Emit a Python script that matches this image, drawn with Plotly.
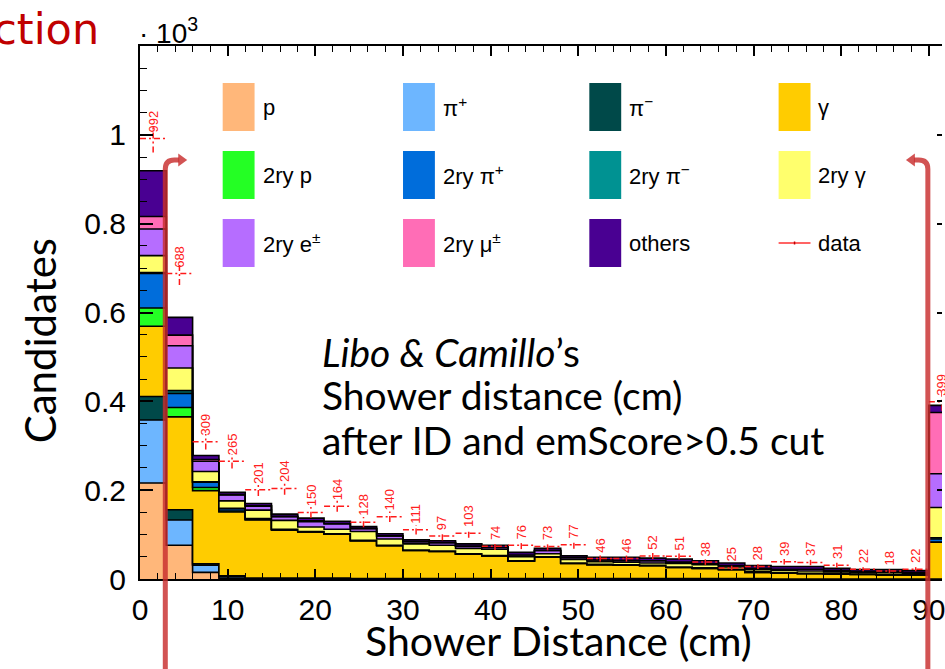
import math
import plotly.graph_objects as go

# ---------------------------------------------------------------- data
BIN_WIDTH = 3.0
N_BINS = 31
edges = [BIN_WIDTH * i for i in range(N_BINS + 1)]          # 0 ... 93 cm

cat_names = ["p", "π<sup>+</sup>", "π<sup>−</sup>", "γ",
             "2ry p", "2ry π<sup>+</sup>", "2ry π<sup>−</sup>", "2ry γ",
             "2ry e<sup>±</sup>", "2ry μ<sup>±</sup>", "others"]

cat_colors = ["#ffb77a", "#6db6ff", "#004949", "#ffcc00",
              "#24ff24", "#006ddb", "#009292", "#ffff6d",
              "#b66dff", "#ff6db6", "#490092"]

# Monte-Carlo candidates per 3 cm bin (stacked bottom -> top)
mc_p      = [216, 76, 15, 2, 1, 1, 1, 1, 1, 1, 1, 1, 1, 1, 1, 1, 1, 1, 1, 1, 1, 1, 1, 1, 0, 0, 0, 0, 0, 0, 0]
mc_pip    = [142, 57, 16, 4, 1, 1, 1, 1, 0, 0, 0, 0, 0, 0, 0, 0, 0, 0, 0, 0, 0, 0, 0, 0, 0, 0, 0, 0, 0, 0, 0]
mc_pim    = [53, 23, 3, 1, 0, 0, 0, 0, 0, 0, 0, 0, 0, 0, 0, 0, 0, 0, 0, 0, 0, 0, 0, 0, 0, 0, 0, 0, 0, 0, 0]
mc_gamma  = [158, 209, 165, 144, 131, 108, 104, 99, 85, 74, 63, 61, 55, 51, 39, 48, 34, 31, 30, 29, 25, 23, 20, 14, 13, 12, 11, 10, 9, 9, 83]
mc_p2     = [41, 21, 7, 2, 1, 1, 0, 0, 0, 0, 0, 0, 0, 0, 0, 0, 0, 0, 0, 0, 0, 0, 0, 0, 0, 0, 0, 0, 0, 0, 0]
mc_pip2   = [78, 32, 12, 5, 2, 1, 1, 1, 1, 1, 1, 1, 1, 1, 1, 1, 1, 1, 1, 1, 1, 1, 1, 1, 1, 1, 1, 1, 1, 1, 7]
mc_pim2   = [2, 6, 1, 1, 0, 0, 0, 0, 0, 0, 0, 0, 0, 0, 0, 0, 0, 0, 0, 0, 0, 0, 0, 0, 0, 0, 0, 0, 0, 0, 3]
mc_gamma2 = [38, 51, 23, 17, 19, 20, 10, 10, 20, 14, 14, 13, 12, 14, 9, 7, 8, 6, 6, 5, 8, 7, 5, 5, 5, 5, 4, 3, 4, 3, 68]
mc_e2     = [60, 50, 23, 13, 9, 8, 12, 12, 6, 7, 5, 6, 5, 4, 4, 7, 4, 4, 4, 5, 3, 3, 3, 3, 3, 4, 3, 3, 3, 2, 76]
mc_mu2    = [28, 24, 4, 1, 1, 1, 2, 1, 1, 0, 0, 0, 0, 0, 0, 0, 0, 0, 0, 0, 0, 0, 0, 0, 0, 0, 0, 0, 0, 0, 138]
mc_others = [103, 40, 9, 5, 5, 5, 6, 5, 4, 5, 4, 4, 5, 5, 6, 5, 4, 6, 7, 6, 7, 6, 6, 6, 6, 6, 5, 4, 4, 4, 16]

data_counts = [992, 688, 309, 265, 201, 204, 150, 164, 128, 140, 111, 97, 103, 74, 76, 73, 77,
               46, 46, 52, 51, 38, 25, 28, 39, 37, 31, 22, 18, 22, 399]

stack = [mc_p, mc_pip, mc_pim, mc_gamma, mc_p2, mc_pip2, mc_pim2,
         mc_gamma2, mc_e2, mc_mu2, mc_others]

x_ticks = [0, 10, 20, 30, 40, 50, 60, 70, 80, 90]
y_ticks = [0, 200, 400, 600, 800, 1000]
y_ticktext = ["0", "0.2", "0.4", "0.6", "0.8", "1"]

CUT_LOW, CUT_HIGH = 3.0, 90.0

# ---------------------------------------------------------------- geometry
W, H = 945, 669
L, R, T, B = 140, 945, 46, 579
X_RANGE = [0, 91.5]
Y_RANGE = [0, 1200]


def px2x(px):
    return (px - L) / (R - L)


def py2y(py):
    return (B - py) / (B - T)


def cm2paper(v):
    return (v - X_RANGE[0]) / (X_RANGE[1] - X_RANGE[0])


fig = go.Figure()

# stacked MC histograms drawn as step areas
for name, color, vals in zip(cat_names, cat_colors, stack):
    fig.add_trace(go.Scatter(
        x=edges, y=vals + [vals[-1]],
        mode="lines", stackgroup="mc",
        line=dict(shape="hv", color="black", width=1.6),
        fillcolor=color, name=name, showlegend=False, hoverinfo="skip",
    ))

# data: horizontal bin bars and vertical sqrt(N) error bars
ex, ey = [], []
for i, v in enumerate(data_counts):
    lo, hi = edges[i], edges[i + 1]
    c = 0.5 * (lo + hi)
    err = math.sqrt(v)
    ex += [lo, hi, None, c, c, None]
    ey += [v, v, None, v - err, v + err, None]
fig.add_trace(go.Scatter(
    x=ex, y=ey, mode="lines", yaxis="y2",
    line=dict(color="#ff1a1a", width=1.5, dash="6px,3px,2px,3px"),
    showlegend=False, hoverinfo="skip",
))

annotations = []
for i, v in enumerate(data_counts):
    annotations.append(dict(
        x=0.5 * (edges[i] + edges[i + 1]), y=v, xref="x", yref="y",
        text=str(v), textangle=-90, showarrow=False,
        xanchor="center", yanchor="bottom", yshift=4,
        font=dict(family="Liberation Sans", size=13, color="#ff2020"),
    ))

# ---------------------------------------------------------------- legend
leg_cols = [223, 404, 591, 781]
leg_rows = [83, 151, 219]
SW_W, SW_H = 32, 48
legend_entries = cat_names + ["data"]
legend_colors = cat_colors + [None]
shapes = []
for k, (name, color) in enumerate(zip(legend_entries, legend_colors)):
    r, c = k // 4, k % 4
    x0, y0 = leg_cols[c], leg_rows[r]
    if color is not None:
        shapes.append(dict(type="rect", xref="paper", yref="paper",
                           x0=px2x(x0), x1=px2x(x0 + SW_W),
                           y0=py2y(y0 + SW_H), y1=py2y(y0),
                           fillcolor=color, line=dict(width=0)))
    else:
        ym = y0 + SW_H / 2
        shapes.append(dict(type="line", xref="paper", yref="paper",
                           x0=px2x(x0), x1=px2x(x0 + SW_W), y0=py2y(ym), y1=py2y(ym),
                           line=dict(color="#ff3030", width=1.5)))
        shapes.append(dict(type="line", xref="paper", yref="paper",
                           x0=px2x(x0 + SW_W / 2), x1=px2x(x0 + SW_W / 2),
                           y0=py2y(ym - 1.5), y1=py2y(ym + 1.5),
                           line=dict(color="#c00000", width=1.5)))
    annotations.append(dict(
        x=px2x(x0 + SW_W + 6), y=py2y(y0 + SW_H / 2), xref="paper", yref="paper",
        text=name, showarrow=False, xanchor="left", yanchor="middle",
        font=dict(family="Liberation Sans", size=22, color="black"),
    ))

# ---------------------------------------------------------------- cut arrows
ARROW = "rgba(200,45,45,0.82)"
for cut, direction in [(CUT_LOW, 1), (CUT_HIGH, -1)]:
    xp = L + cm2paper(cut) * (R - L) - 1
    ytop = 160
    path = (f"M {px2x(xp)},{py2y(H + 10)} L {px2x(xp)},{py2y(ytop + 9)} "
            f"Q {px2x(xp)},{py2y(ytop)} {px2x(xp + direction * 9)},{py2y(ytop)} "
            f"L {px2x(xp + direction * 14)},{py2y(ytop)}")
    shapes.append(dict(type="path", xref="paper", yref="paper", path=path,
                       line=dict(color=ARROW, width=5)))
    tip = xp + direction * 22
    base = xp + direction * 13
    head = (f"M {px2x(base)},{py2y(ytop - 6.5)} L {px2x(tip)},{py2y(ytop)} "
            f"L {px2x(base)},{py2y(ytop + 6.5)} Z")
    shapes.append(dict(type="path", xref="paper", yref="paper", path=head,
                       fillcolor=ARROW, line=dict(width=0)))

# ---------------------------------------------------------------- texts
TXT_FONT = "Lato"
annotations += [
    dict(x=px2x(101), y=py2y(29), xref="paper", yref="paper", text="Selection",
         showarrow=False, xanchor="right", yanchor="middle",
         font=dict(family="DejaVu Sans", size=43, color="#c00000")),
    dict(x=px2x(137), y=py2y(31), xref="paper", yref="paper", text="· 10<sup>3</sup>",
         showarrow=False, xanchor="left", yanchor="middle",
         font=dict(family="Liberation Sans", size=28, color="black")),
    dict(x=px2x(40), y=py2y(341), xref="paper", yref="paper", text="Candidates",
         textangle=-90, showarrow=False, xanchor="center", yanchor="middle",
         font=dict(family=TXT_FONT, size=42, color="black")),
    dict(x=px2x(560), y=py2y(640), xref="paper", yref="paper", text="Shower Distance (cm)",
         showarrow=False, xanchor="center", yanchor="middle",
         font=dict(family=TXT_FONT, size=41, color="black")),
    dict(x=px2x(321), y=py2y(352), xref="paper", yref="paper",
         text="<i>Libo &amp; Camillo</i>’s",
         showarrow=False, xanchor="left", yanchor="middle",
         font=dict(family=TXT_FONT, size=39, color="black")),
    dict(x=px2x(321), y=py2y(395), xref="paper", yref="paper",
         text="Shower distance (cm)",
         showarrow=False, xanchor="left", yanchor="middle",
         font=dict(family=TXT_FONT, size=39, color="black")),
    dict(x=px2x(321), y=py2y(440), xref="paper", yref="paper",
         text="after ID and emScore&gt;0.5 cut",
         showarrow=False, xanchor="left", yanchor="middle",
         font=dict(family=TXT_FONT, size=39, color="black")),
]

tick_font = dict(family="Liberation Sans", size=30, color="black")

fig.update_layout(
    width=W, height=H, autosize=False,
    margin=dict(l=L, r=W - R, t=T, b=H - B, pad=0),
    paper_bgcolor="white", plot_bgcolor="white",
    showlegend=False,
    xaxis=dict(range=X_RANGE, tickvals=x_ticks, ticks="inside", ticklen=10,
               tickwidth=1.5, tickcolor="black",
               minor=dict(dtick=2, tick0=0, ticks="inside", ticklen=6,
                          tickwidth=1.2, tickcolor="black"),
               showline=True, linewidth=2, linecolor="black", mirror="ticks",
               showgrid=False, zeroline=False, tickfont=tick_font,
               ticklabelstandoff=3, ticklabeloverflow="allow"),
    yaxis=dict(range=Y_RANGE, tickvals=y_ticks, ticktext=y_ticktext,
               ticks="inside", ticklen=13, tickwidth=1.5, tickcolor="black",
               minor=dict(dtick=50, tick0=0, ticks="inside", ticklen=7,
                          tickwidth=1.2, tickcolor="black"),
               showline=True, linewidth=2, linecolor="black", mirror=False,
               showgrid=False, zeroline=False, tickfont=tick_font,
               ticklabelstandoff=6),
    yaxis2=dict(range=Y_RANGE, overlaying="y", side="right", tickvals=y_ticks,
                showticklabels=False, ticks="inside", ticklen=5, tickwidth=1.5,
                tickcolor="black", showline=False, showgrid=False, zeroline=False),
    shapes=shapes,
    annotations=annotations,
)

fig.write_html("out.html")
